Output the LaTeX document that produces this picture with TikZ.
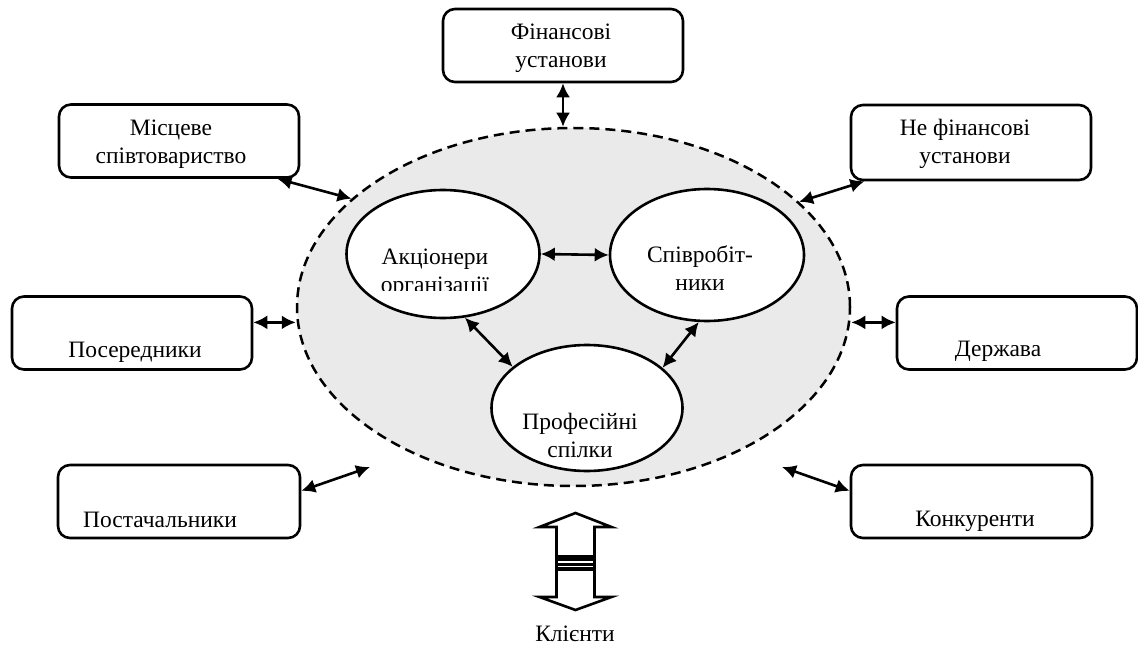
\documentclass[tikz,border=0pt]{standalone}
\usepackage{fontspec}
\setmainfont{Liberation Serif}
\usetikzlibrary{arrows.meta,shapes.geometric}
\definecolor{fieldgray}{RGB}{234,234,234}

\begin{document}
\begin{tikzpicture}[x=1pt,y=-1pt]
	\tikzset{
		box/.style={draw,line width=2.6pt,rounded corners=12pt,fill=white,minimum width=240pt,minimum height=73pt},
		oval/.style={ellipse,draw,line width=2.6pt,fill=white,inner sep=0pt},
		txt/.style={anchor=base,align=center,inner sep=0pt,font=\fontsize{23.5}{28}\selectfont},
		link/.style={line width=2.6pt,{Latex[length=14pt,width=14pt]}-{Latex[length=14pt,width=14pt]}}
	}
	\useasboundingbox (0,0) rectangle (1138,647);
	\node[ellipse,draw,dash pattern=on 10pt off 6pt,line width=2.5pt,fill=fieldgray,minimum width=553pt,minimum height=358pt] (field) at (573.5,307) {};

	\node[box] (fin) at (563,45.5) {};
	\node[box] (loc) at (179,141) {};
	\node[box,minimum height=75pt] (nonfin) at (971,142.5) {};
	\node[box] (inter) at (132,333) {};
	\node[box] (state) at (1017,333) {};
	\node[box,minimum width=242pt] (supp) at (179,501.5) {};
	\node[box,minimum width=241pt] (comp) at (971.5,501.5) {};

	\node[oval,minimum width=193pt,minimum height=128pt] (sh) at (443,254) {};
	\node[oval,minimum width=194pt,minimum height=132pt] (emp) at (707,255) {};
	\node[oval,minimum width=191pt,minimum height=126pt] (un) at (587,408) {};

	\node[txt] (fin-t) at (561,68) {Фінансові\\установи};
	\node[txt] (loc-t) at (171,164) {Місцеве\\співтовариство};
	\node[txt] (nonfin-t) at (965,164) {Не фінансові\\установи};
	\node[txt] (inter-t) at (135,357) {Посередники};
	\node[txt] (state-t) at (998,356) {Держава};
	\node[txt] (supp-t) at (160,527) {Постачальники};
	\node[txt] (comp-t) at (975,526) {Конкуренти};
	\begin{scope}
		\clip (350,195) rectangle (535,290);
		\node[txt] (sh-t) at (435,292) {Акціонери\\організації};
	\end{scope}
	\node[txt] (emp-t) at (700,290) {Співробіт-\\ники};
	\node[txt] (un-t) at (580,457) {Професійні\\спілки};
	\node[txt] (cl) at (575,641) {Клієнти};

	\coordinate (supp-tip) at (370,467);
	\coordinate (comp-tip) at (782,467);
	\draw[link] (fin.south) -- (fin.south |- field.north);
	\draw[link] (loc.-21) -- (field.154);
	\draw[link] (field.25) -- (nonfin.200);
	\draw[link] (inter.5) -- (inter.5 -| field.west);
	\draw[link] (state.175 -| field.east) -- (state.175);
	\draw[link] (supp.5) -- (supp-tip);
	\draw[link] (comp-tip) -- (comp.175);
	\draw[link] (sh.east) -- (emp.west);
	\draw[link] (sh.289) -- (un.151);
	\draw[link] (emp.263) -- (un.28);

	\coordinate (cl-top) at (575.5,513);
	\draw[line width=2.6pt,fill=white,line join=miter] (cl-top) -- ++(-36,14) -- ++(17,0) -- ++(0,70) -- ++(-17,0) -- ++(36,13) -- ++(36,-13) -- ++(-17,0) -- ++(0,-70) -- ++(17,0) -- cycle;
	\foreach \y/\w in {558/6,564/3,569/4}
		\draw[line width=\w pt] (556.5,\y) -- (594.5,\y);
\end{tikzpicture}
\end{document}
